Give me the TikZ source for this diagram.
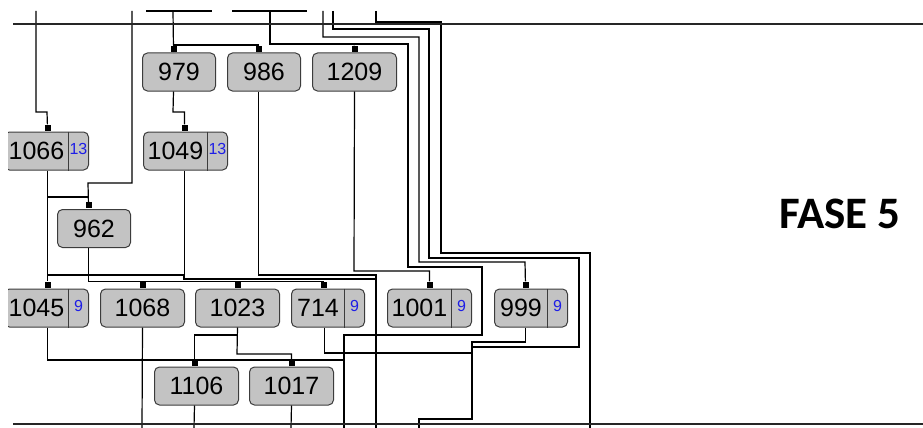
\documentclass[tikz,border=0pt]{standalone}
\usepackage{fontspec}
\setmainfont{Liberation Sans}
\newfontfamily\fasefont{Carlito}
\definecolor{boxfill}{RGB}{195,195,195}
\definecolor{boxline}{RGB}{60,60,60}
\definecolor{tagblue}{RGB}{30,30,230}
\newcommand{\boxfont}{\fontsize{25}{25}\selectfont}
\newcommand{\tagnum}[1]{\raisebox{5pt}{\color{tagblue}\fontsize{16}{16}\selectfont #1}}

\begin{document}
\begin{tikzpicture}[x=1pt, y=-1pt, line width=1.2pt,
    cell/.style={draw=boxline, fill=boxfill, rounded corners=5pt, minimum height=38pt,
        inner sep=0pt, anchor=west, font=\boxfont, line width=1pt},
    wide cell/.style={cell, minimum width=84pt},
    narrow cell/.style={cell, minimum width=73pt},
    pinsq/.style={fill=black, inner sep=0pt, minimum size=6pt, anchor=south},
    divider/.style={draw=boxline, line width=0.9pt},
    bus/.style={line width=1.5pt, draw=black!85}]

    \fill[white] (0,0) rectangle (923,428);
    \useasboundingbox (0,0) rectangle (923,428);

    \begin{scope}
    \clip (8,0) rectangle (923,428);

    % upper row
    \node[narrow cell] (b979) at (142,72) {979};
    \node[narrow cell] (b986) at (227,72) {986};
    \node[wide cell] (b1209) at (312,72) {1209};

    % second row
    \node[cell] (b1066) at (4,151) {\makebox[64pt]{1066}\makebox[20pt]{\tagnum{13}}};
    \node[cell] (b1049) at (143,151) {\makebox[64pt]{1049}\makebox[20pt]{\tagnum{13}}};
    \node[narrow cell] (b962) at (57,228.5) {962};

    % third row
    \node[cell] (b1045) at (4,308) {\makebox[64pt]{1045}\makebox[20pt]{\tagnum{9}}};
    \node[wide cell] (b1068) at (100,308) {1068};
    \node[wide cell] (b1023) at (195,308) {1023};
    \node[cell] (b714) at (291,308) {\makebox[53pt]{714}\makebox[20pt]{\tagnum{9}}};
    \node[cell] (b1001) at (387,308) {\makebox[64pt]{1001}\makebox[20pt]{\tagnum{9}}};
    \node[cell] (b999) at (494,308) {\makebox[53pt]{999}\makebox[20pt]{\tagnum{9}}};

    % bottom row
    \node[wide cell] (b1106) at (154,386) {1106};
    \node[wide cell] (b1017) at (249,386) {1017};

    % dividers of the tagged cells
    \draw[divider] ([xshift=64pt]b1066.north west) -- ([xshift=64pt]b1066.south west);
    \draw[divider] ([xshift=64pt]b1049.north west) -- ([xshift=64pt]b1049.south west);
    \draw[divider] ([xshift=64pt]b1045.north west) -- ([xshift=64pt]b1045.south west);
    \draw[divider] ([xshift=53pt]b714.north west) -- ([xshift=53pt]b714.south west);
    \draw[divider] ([xshift=64pt]b1001.north west) -- ([xshift=64pt]b1001.south west);
    \draw[divider] ([xshift=53pt]b999.north west) -- ([xshift=53pt]b999.south west);

    % input pins
    \node[pinsq] (i979) at ([xshift=-5.5pt]b979.north) {};
    \node[pinsq] (i986) at ([xshift=-5.5pt]b986.north) {};
    \node[pinsq] (i1209) at (b1209.north) {};
    \node[pinsq] (i1066) at ([xshift=1pt]b1066.north) {};
    \node[pinsq] (i1049) at ([xshift=-1pt]b1049.north) {};
    \node[pinsq] (i962) at ([xshift=-5.5pt]b962.north) {};
    \node[pinsq] (i1045) at ([xshift=1pt]b1045.north) {};
    \node[pinsq] (i1068) at (b1068.north) {};
    \node[pinsq] (i1023) at (b1023.north) {};
    \node[pinsq] (i714) at ([xshift=-4.5pt]b714.north) {};
    \node[pinsq] (i1001) at (b1001.north) {};
    \node[pinsq] (i999) at ([xshift=-5.5pt]b999.north) {};
    \node[pinsq] (i1106) at ([xshift=-2pt]b1106.north) {};
    \node[pinsq] (i1017) at (b1017.north) {};

    % lines coming from the previous phase
    \coordinate (inA) at (36,11);
    \coordinate (inB) at (132,11);
    \coordinate (inC) at (173,11);
    \coordinate (inD) at (270,11);
    \coordinate (inE) at (323,11);
    \coordinate (inF) at (333,11);
    \coordinate (inG) at (376,11);

    \draw (146,11) -- (212,11);
    \draw (232,11) -- (307,11);
    \draw (inC) -- (i979);
    \draw (173,45) -| (i986);
    \draw (inA) |- (47,112) -- (i1066);
    \draw (inB) |- (88,183) -- (i962);
    \draw (inD) |- (408,44) |- (482,267) |- (344,335) -- (344,428);
    \draw (354,44) -- (i1209);
    \draw (inE) |- (419,37) |- (525,262) -- (i999);
    \draw (inF) |- (429,29) |- (579,258) |- (472,347);
    \draw (inG) |- (441,22) |- (590,253) -- (590,428);

    % wiring between the cells
    \draw (i979 |- b979.south) -- (173,112) -| (i1049);
    \draw (i1066 |- b1066.south) -- (i1045);
    \draw (47,197) -- (88,197);
    \draw (i1049 |- b1049.south) |- (47,275);
    \draw (184,275) |- (376,279);
    \draw (i986 |- b986.south) |- (376,275) -- (376,428);
    \draw (i1209 |- b1209.south) -- (354,271) -| (i1001);
    \draw (i962 |- b962.south) |- (i714.north);
    \draw (i1045 |- b1045.south) |- (344,360);
    \draw (i1068 |- b1068.south) -- (142,428);
    \draw (i1023 |- b1023.south) -- (237,354) -| (i1017);
    \draw (237,335) -| (i1106);
    \draw ([xshift=1pt]i714 |- b714.south) |- (472,353);
    \draw (i999 |- b999.south) |- (472,342) |- (419,419) -- (419,428);
    \draw (i1106 |- b1106.south) -- (194,428);
    \draw (i1017 |- b1017.south) -- (291,428);

    % phase borders
    \draw[bus] (13,24) -- (923,24);
    \draw[bus] (13,424) -- (923,424);
    \end{scope}

    \node[font=\fasefont\bfseries\fontsize{45}{45}\selectfont] (fase) at (840,214) {FASE 5};

\end{tikzpicture}
\end{document}
